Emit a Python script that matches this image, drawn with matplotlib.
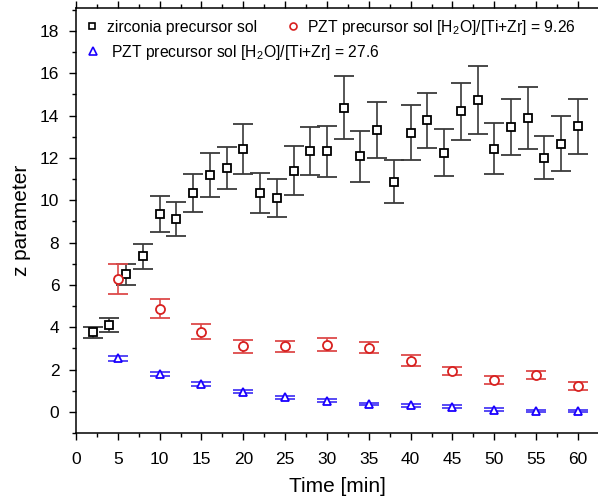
import matplotlib
matplotlib.use("Agg")
import matplotlib.pyplot as plt
from matplotlib.lines import Line2D
from matplotlib.ticker import MultipleLocator

# ── Data
t_zr = [2, 4, 6, 8, 10, 12, 14, 16, 18, 20, 22, 24, 26, 28, 30,
        32, 34, 36, 38, 40, 42, 44, 46, 48, 50, 52, 54, 56, 58, 60]
z_zr = [3.75, 4.12, 6.50, 7.35, 9.35, 9.10, 10.34, 11.18, 11.51, 12.41,
        10.33, 10.11, 11.40, 12.34, 12.31, 14.37, 12.08, 13.30, 10.88, 13.18,
        13.78, 12.25, 14.19, 14.74, 12.44, 13.45, 13.89, 12.01, 12.66, 13.49]
e_zr = [0.27, 0.33, 0.50, 0.60, 0.85, 0.80, 0.90, 1.05, 1.00, 1.19,
        0.95, 0.90, 1.17, 1.13, 1.20, 1.50, 1.20, 1.33, 1.00, 1.30,
        1.30, 1.13, 1.37, 1.60, 1.19, 1.31, 1.46, 1.00, 1.30, 1.31]

t_pzt = [5, 10, 15, 20, 25, 30, 35, 40, 45, 50, 55, 60]
z_926 = [6.28, 4.88, 3.78, 3.09, 3.09, 3.18, 3.02, 2.42, 1.94, 1.51, 1.73, 1.21]
e_926 = [0.70, 0.45, 0.35, 0.30, 0.26, 0.29, 0.26, 0.25, 0.20, 0.18, 0.19, 0.19]
z_276 = [2.54, 1.78, 1.31, 0.96, 0.69, 0.52, 0.38, 0.30, 0.24, 0.11, 0.03, 0.03]
e_276 = [0.12, 0.10, 0.10, 0.08, 0.07, 0.07, 0.06, 0.06, 0.06, 0.06, 0.06, 0.06]

lab_zr = "zirconia precursor sol"
lab_926 = r"PZT precursor sol [H$_\mathregular{2}$O]/[Ti+Zr] = 9.26"
lab_276 = r"PZT precursor sol [H$_\mathregular{2}$O]/[Ti+Zr] = 27.6"

BLACK, RED, BLUE = "black", "#d8201f", "#1a00ff"

plt.rcParams["font.family"] = ["Liberation Sans", "DejaVu Sans"]
plt.rcParams["mathtext.fontset"] = "custom"
plt.rcParams["mathtext.rm"] = "Liberation Sans"

fig = plt.figure(figsize=(5.98, 4.96), dpi=100)
ax = fig.add_axes([76 / 598, 1 - 433 / 496, 1 - 76 / 598, (433 - 8) / 496])

mk = dict(markersize=6, markeredgewidth=1.3, markerfacecolor="white", linestyle="none")
eb = dict(elinewidth=1.2, capsize=7, capthick=1.2)

ax.errorbar(t_zr, z_zr, yerr=e_zr, marker="s", color=BLACK, ecolor="#3a3a3a", **eb, **mk)
ax.errorbar(t_pzt, z_276, yerr=e_276, marker="^", color=BLUE, ecolor="#4a3cf5", **eb, **mk)
ax.errorbar(t_pzt, z_926, yerr=e_926, marker="o", color=RED, ecolor="#dd4a4a",
            **eb, **{**mk, "markersize": 6.5})

ax.set_xlim(0, 62.4)
ax.set_ylim(-1, 19.08)
ax.xaxis.set_major_locator(MultipleLocator(5))
ax.xaxis.set_minor_locator(MultipleLocator(2.5))
ax.set_yticks(range(0, 19, 2))
ax.yaxis.set_minor_locator(MultipleLocator(1))
ax.tick_params(which="major", direction="out", length=5, width=1, labelsize=12.5)
ax.tick_params(which="minor", direction="out", length=3, width=1)
ax.tick_params(axis="x", which="both", top=True, pad=9)
ax.tick_params(axis="y", pad=7)
ax.spines["right"].set_visible(False)
for s in ax.spines.values():
    s.set_linewidth(1.1)

ax.set_xlabel("Time [min]", fontsize=15, labelpad=7)
ax.set_ylabel("z parameter", fontsize=15, labelpad=6.5)

# ── Legend (proxy handles, no error bars)
def proxy(marker, color, ms):
    return Line2D([], [], marker=marker, color=color, markerfacecolor="white",
                  markeredgewidth=1.2, markersize=ms, linestyle="none")

leg1 = ax.legend([proxy("s", BLACK, 4.5), proxy("o", RED, 5)], [lab_zr, lab_926],
                 ncol=2, loc="center left", bbox_to_anchor=(0.016, 0.955),
                 frameon=False, fontsize=11.3, borderpad=0, borderaxespad=0,
                 handlelength=1.0, handletextpad=0.42, columnspacing=1.8)
ax.add_artist(leg1)
ax.legend([proxy("^", BLUE, 5.5)], [lab_276], loc="center left",
          bbox_to_anchor=(0.018, 0.896), frameon=False, fontsize=11.3,
          borderpad=0, borderaxespad=0, handlelength=1.0, handletextpad=0.6)

fig.savefig("out.png", dpi=100)
